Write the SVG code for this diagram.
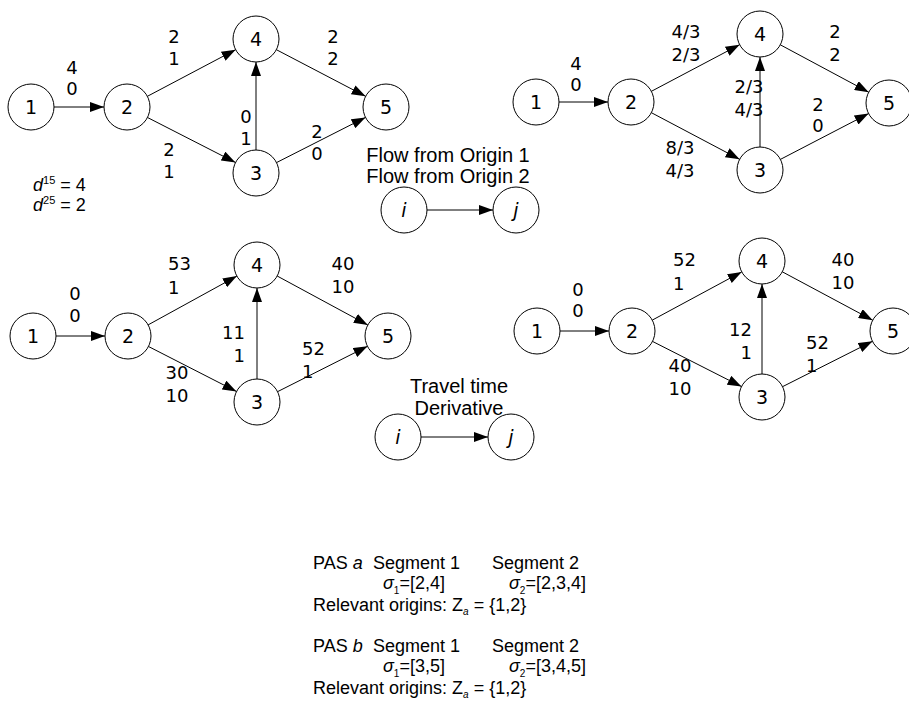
<svg xmlns="http://www.w3.org/2000/svg" width="909" height="705" viewBox="0 0 909 705">
<defs>
<marker id="ah" markerWidth="14" markerHeight="10" refX="14" refY="5" orient="auto" markerUnits="userSpaceOnUse"><path d="M0,0 L14,5 L0,10 z" fill="#000"/></marker>
<style>
.n circle{fill:#fff;stroke:#000;stroke-width:1}
.n text{font-family:"DejaVu Sans",sans-serif;font-size:19px;text-anchor:middle;fill:#000}
.n text.it{font-style:italic}
.e line{stroke:#000;stroke-width:1;marker-end:url(#ah)}
.l{font-family:"DejaVu Sans",sans-serif;font-size:18px;fill:#000;text-anchor:middle}
.s{text-anchor:start}
.en{text-anchor:end}
.t{font-family:"Liberation Sans",Arial,sans-serif;font-size:18px;fill:#000}
.d{font-family:"Liberation Sans",Arial,sans-serif;font-size:18px;fill:#000}
.lg{font-family:"Liberation Sans",Arial,sans-serif;font-size:20px;fill:#000;text-anchor:middle}
</style>
</defs>
<rect width="909" height="705" fill="#fff"/>

<g id="connectors" class="e">
<line x1="54" y1="107" x2="104" y2="107"/>
<line x1="147.4" y1="96.3" x2="235.6" y2="49.7"/>
<line x1="147.5" y1="117.5" x2="235.5" y2="162.5"/>
<line x1="256" y1="150" x2="256" y2="62"/>
<line x1="276.4" y1="49.7" x2="365.6" y2="96.3"/>
<line x1="276.5" y1="162.6" x2="365.5" y2="117.4"/>

<line x1="559" y1="102" x2="608" y2="102"/>
<line x1="651.4" y1="91.3" x2="739.6" y2="44.7"/>
<line x1="651.4" y1="112.7" x2="739.6" y2="159.3"/>
<line x1="760" y1="147" x2="760" y2="57"/>
<line x1="780.3" y1="44.8" x2="868.7" y2="92.2"/>
<line x1="780.4" y1="159.4" x2="868.6" y2="113.6"/>

<line x1="56" y1="336" x2="105" y2="336"/>
<line x1="148.1" y1="324.9" x2="236.9" y2="276.1"/>
<line x1="148.5" y1="346.5" x2="236.5" y2="391.5"/>
<line x1="257" y1="379" x2="257" y2="288"/>
<line x1="277.2" y1="276" x2="367.8" y2="325"/>
<line x1="277.5" y1="391.7" x2="367.5" y2="346.3"/>

<line x1="560" y1="331" x2="609" y2="331"/>
<line x1="652.3" y1="320.1" x2="741.7" y2="271.9"/>
<line x1="652.5" y1="341.4" x2="741.5" y2="386.6"/>
<line x1="762" y1="374" x2="762" y2="284"/>
<line x1="782.3" y1="271.8" x2="872.7" y2="320.2"/>
<line x1="782.5" y1="386.7" x2="872.5" y2="341.3"/>

<line x1="427" y1="210" x2="493" y2="210"/>
<line x1="421" y1="437" x2="488" y2="437"/>
</g>

<g id="tl-1" class="n"><circle cx="31" cy="107" r="23"/><text x="31" y="114">1</text></g>
<g id="tl-2" class="n"><circle cx="127" cy="107" r="23"/><text x="127" y="114">2</text></g>
<g id="tl-4" class="n"><circle cx="256" cy="39" r="23"/><text x="256" y="46">4</text></g>
<g id="tl-3" class="n"><circle cx="256" cy="173" r="23"/><text x="256" y="180">3</text></g>
<g id="tl-5" class="n"><circle cx="386" cy="107" r="23"/><text x="386" y="114">5</text></g>
<g id="tl-labels" class="l">
<text x="72" y="74">4</text><text x="72" y="95">0</text>
<text x="174" y="43">2</text><text x="174" y="65">1</text>
<text x="333" y="43">2</text><text x="333" y="65">2</text>
<text x="246" y="123">0</text><text x="246" y="145">1</text>
<text x="317" y="138">2</text><text x="317" y="160">0</text>
<text x="169" y="156">2</text><text x="169" y="178">1</text>
</g>
<g id="demand" class="d">
<text x="33" y="191"><tspan font-style="italic">d</tspan><tspan font-size="11" dy="-7">15</tspan><tspan dy="7"> = 4</tspan></text>
<text x="33" y="211"><tspan font-style="italic">d</tspan><tspan font-size="11" dy="-7">25</tspan><tspan dy="7"> = 2</tspan></text>
</g>

<g id="tr-1" class="n"><circle cx="536" cy="102" r="23"/><text x="536" y="109">1</text></g>
<g id="tr-2" class="n"><circle cx="631" cy="102" r="23"/><text x="631" y="109">2</text></g>
<g id="tr-4" class="n"><circle cx="760" cy="34" r="23"/><text x="760" y="41">4</text></g>
<g id="tr-3" class="n"><circle cx="760" cy="170" r="23"/><text x="760" y="177">3</text></g>
<g id="tr-5" class="n"><circle cx="889" cy="103" r="23"/><text x="889" y="110">5</text></g>
<g id="tr-labels" class="l">
<text x="576" y="70">4</text><text x="576" y="91">0</text>
<text x="686" y="38">4/3</text><text x="686" y="61">2/3</text>
<text x="835" y="38">2</text><text x="835" y="61">2</text>
<text x="749" y="93">2/3</text><text x="749" y="116">4/3</text>
<text x="818" y="111">2</text><text x="818" y="132">0</text>
<text x="680" y="154">8/3</text><text x="680" y="177">4/3</text>
</g>

<g id="legend-flow">
<text class="lg" x="448" y="162">Flow from Origin 1</text>
<text class="lg" x="448" y="183">Flow from Origin 2</text>
</g>
<g id="lg1-i" class="n"><circle cx="404" cy="210" r="23"/><text class="it" x="404" y="217">i</text></g>
<g id="lg1-j" class="n"><circle cx="516" cy="210" r="23"/><text class="it" x="516" y="217">j</text></g>

<g id="bl-1" class="n"><circle cx="33" cy="336" r="23"/><text x="33" y="343">1</text></g>
<g id="bl-2" class="n"><circle cx="128" cy="336" r="23"/><text x="128" y="343">2</text></g>
<g id="bl-4" class="n"><circle cx="257" cy="265" r="23"/><text x="257" y="272">4</text></g>
<g id="bl-3" class="n"><circle cx="257" cy="402" r="23"/><text x="257" y="409">3</text></g>
<g id="bl-5" class="n"><circle cx="388" cy="336" r="23"/><text x="388" y="343">5</text></g>
<g id="bl-labels" class="l">
<text x="75" y="300">0</text><text x="75" y="322">0</text>
<text class="s" x="168" y="270">53</text><text class="s" x="168" y="294">1</text>
<text x="343" y="270">40</text><text x="343" y="293">10</text>
<text class="en" x="245" y="339">11</text><text class="en" x="245" y="362">1</text>
<text class="s" x="302" y="355">52</text><text class="s" x="302" y="378">1</text>
<text x="177" y="379">30</text><text x="177" y="402">10</text>
</g>

<g id="br-1" class="n"><circle cx="537" cy="331" r="23"/><text x="537" y="338">1</text></g>
<g id="br-2" class="n"><circle cx="632" cy="331" r="23"/><text x="632" y="338">2</text></g>
<g id="br-4" class="n"><circle cx="762" cy="261" r="23"/><text x="762" y="268">4</text></g>
<g id="br-3" class="n"><circle cx="762" cy="397" r="23"/><text x="762" y="404">3</text></g>
<g id="br-5" class="n"><circle cx="893" cy="331" r="23"/><text x="893" y="338">5</text></g>
<g id="br-labels" class="l">
<text x="578" y="296">0</text><text x="578" y="317">0</text>
<text class="s" x="673" y="266">52</text><text class="s" x="673" y="290">1</text>
<text x="843" y="266">40</text><text x="843" y="289">10</text>
<text class="en" x="752" y="336">12</text><text class="en" x="752" y="359">1</text>
<text class="s" x="806" y="349">52</text><text class="s" x="806" y="372">1</text>
<text x="680" y="372">40</text><text x="680" y="395">10</text>
</g>

<g id="legend-time">
<text class="lg" x="459" y="393">Travel time</text>
<text class="lg" x="459" y="415">Derivative</text>
</g>
<g id="lg2-i" class="n"><circle cx="398" cy="437" r="23"/><text class="it" x="398" y="444">i</text></g>
<g id="lg2-j" class="n"><circle cx="511" cy="437" r="23"/><text class="it" x="511" y="444">j</text></g>

<g id="pas" class="t">
<text x="313" y="569">PAS <tspan font-style="italic">a</tspan></text>
<text x="373" y="569">Segment 1</text>
<text x="492" y="569">Segment 2</text>
<text x="383" y="589"><tspan font-style="italic">σ</tspan><tspan font-size="10" dy="5">1</tspan><tspan dy="-5">=[2,4]</tspan></text>
<text x="509" y="589"><tspan font-style="italic">σ</tspan><tspan font-size="10" dy="5">2</tspan><tspan dy="-5">=[2,3,4]</tspan></text>
<text x="313" y="611">Relevant origins: Z<tspan font-style="italic" font-size="10" dy="4">a</tspan><tspan dy="-4"> = {1,2}</tspan></text>
<text x="313" y="652">PAS <tspan font-style="italic">b</tspan></text>
<text x="373" y="652">Segment 1</text>
<text x="492" y="652">Segment 2</text>
<text x="383" y="672"><tspan font-style="italic">σ</tspan><tspan font-size="10" dy="5">1</tspan><tspan dy="-5">=[3,5]</tspan></text>
<text x="509" y="672"><tspan font-style="italic">σ</tspan><tspan font-size="10" dy="5">2</tspan><tspan dy="-5">=[3,4,5]</tspan></text>
<text x="313" y="694">Relevant origins: Z<tspan font-style="italic" font-size="10" dy="4">a</tspan><tspan dy="-4"> = {1,2}</tspan></text>
</g>
</svg>
